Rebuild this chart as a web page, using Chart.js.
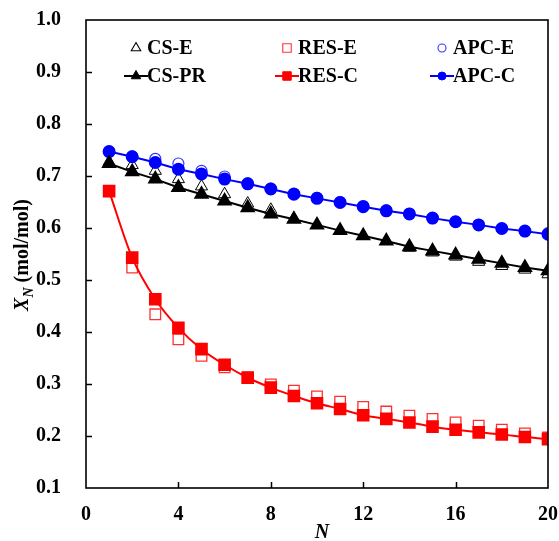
<!DOCTYPE html>
<html>
<head>
<meta charset="utf-8">
<script src="https://cdn.jsdelivr.net/npm/chart.js@4.4.0/dist/chart.umd.min.js"></script>
<style>
  html, body { margin: 0; padding: 0; background: #fff; }
  #wrap { width: 559px; height: 541px; }
</style>
</head>
<body>
<div id="wrap"><canvas id="mainChart" width="559" height="541"></canvas></div>
<script>
// Datos
const stages = [1,2,3,4,5,6,7,8,9,10,11,12,13,14,15,16,17,18,19,20];
const csE    = [0.727,0.721,0.710,0.694,0.680,0.665,0.647,0.635,0.618,0.606,0.595,0.585,0.575,0.562,0.553,0.545,0.535,0.527,0.520,0.511];
const csPR   = [0.724,0.708,0.694,0.678,0.665,0.652,0.639,0.627,0.617,0.606,0.595,0.585,0.575,0.564,0.556,0.548,0.540,0.532,0.524,0.518];
const resE   = [0.671,0.524,0.434,0.386,0.354,0.332,0.313,0.299,0.287,0.276,0.266,0.256,0.247,0.239,0.233,0.226,0.220,0.212,0.205,0.197];
const resC   = [0.671,0.543,0.463,0.408,0.367,0.337,0.312,0.293,0.277,0.263,0.252,0.240,0.233,0.226,0.218,0.212,0.207,0.203,0.198,0.194];
const apcE   = [0.747,0.738,0.733,0.724,0.710,0.699,0.686,0.676,0.666,0.658,0.650,0.642,0.634,0.627,0.619,0.612,0.606,0.599,0.594,0.590];
const apcC   = [0.747,0.737,0.726,0.713,0.704,0.694,0.685,0.675,0.665,0.657,0.649,0.641,0.633,0.627,0.619,0.612,0.606,0.599,0.594,0.588];

const xTicks = [0,4,8,12,16,20];
const yTicks = [0.1,0.2,0.3,0.4,0.5,0.6,0.7,0.8,0.9,1.0];

const SERIF = '"Liberation Serif", "Times New Roman", serif';

function pts(arr){ return stages.map((n,i) => ({ x: n, y: arr[i] })); }

// Marcadores abiertos (E) y rellenos con línea (C / PR)
const datasets = [
  { label: 'CS-E', data: pts(csE), showLine: false, pointStyle: 'triangle', pointRadius: 7,
    borderColor: '#000', backgroundColor: 'rgba(255,255,255,0)', pointBorderWidth: 1, order: 2 },
  { label: 'RES-E', data: pts(resE), showLine: false, pointStyle: 'rect', pointRadius: 7.5,
    borderColor: '#ff3030', backgroundColor: 'rgba(255,255,255,0)', pointBorderWidth: 1.3, order: 2 },
  { label: 'APC-E', data: pts(apcE), showLine: false, pointStyle: 'circle', pointRadius: 5.5,
    borderColor: '#3333ff', backgroundColor: 'rgba(255,255,255,0)', pointBorderWidth: 1.2, order: 2 },
  { label: 'CS-PR', data: pts(csPR), showLine: true, pointStyle: 'triangle', pointRadius: 7,
    borderColor: '#000', backgroundColor: '#000', borderWidth: 2, order: 1 },
  { label: 'RES-C', data: pts(resC), showLine: true, pointStyle: 'rect', pointRadius: 7.5,
    borderColor: '#ff0000', backgroundColor: '#ff0000', borderWidth: 2, cubicInterpolationMode: 'monotone', order: 1 },
  { label: 'APC-C', data: pts(apcC), showLine: true, pointStyle: 'circle', pointRadius: 5.5,
    borderColor: '#0000ff', backgroundColor: '#0000ff', borderWidth: 2, order: 1 }
];

// Marco, marcas interiores, leyenda y títulos de ejes
const decorPlugin = {
  id: 'decor',
  afterDraw(chart){
    const ctx = chart.ctx;
    const a = chart.chartArea;
    const xs = chart.scales.x, ys = chart.scales.y;
    ctx.save();
    ctx.strokeStyle = '#000';
    ctx.lineWidth = 1.6;
    ctx.strokeRect(a.left, a.top, a.right - a.left, a.bottom - a.top);
    ctx.lineWidth = 1.5;
    ctx.beginPath();
    yTicks.slice(1, -1).forEach(v => {
      const y = Math.round(ys.getPixelForValue(v)) + 0.5;
      ctx.moveTo(a.left, y); ctx.lineTo(a.left + 6, y);
    });
    xTicks.slice(1, -1).forEach(v => {
      const x = Math.round(xs.getPixelForValue(v)) + 0.5;
      ctx.moveTo(x, a.bottom); ctx.lineTo(x, a.bottom - 6);
    });
    ctx.stroke();

    // leyenda 2 filas x 3 columnas
    const cols = [a.left + 50, a.left + 201, a.left + 356];
    const rows = [a.top + 28, a.top + 56];
    const ds = chart.data.datasets;
    ds.forEach((d, i) => {
      const col = i % 3, row = Math.floor(i / 3);
      const mx = cols[col], my = rows[row];
      if (d.showLine) {
        ctx.strokeStyle = d.borderColor;
        ctx.lineWidth = 2;
        ctx.beginPath(); ctx.moveTo(mx - 12, my); ctx.lineTo(mx + 12, my); ctx.stroke();
      }
      const r = d.pointStyle === 'circle' ? 4 : (d.pointStyle === 'rect' ? 6 : 5.5);
      ctx.strokeStyle = d.borderColor;
      ctx.fillStyle = d.backgroundColor;
      ctx.lineWidth = d.showLine ? 1 : 1.1;
      Chart.helpers.drawPoint(ctx, { pointStyle: d.pointStyle, radius: r, borderWidth: 1 }, mx, my);
      ctx.fillStyle = '#000';
      ctx.font = 'bold 20px ' + SERIF;
      ctx.textAlign = 'left';
      ctx.textBaseline = 'middle';
      ctx.fillText(d.label, mx + 11, my + 1);
    });

    // título eje X
    ctx.fillStyle = '#000';
    ctx.font = 'italic bold 20px ' + SERIF;
    ctx.textAlign = 'center';
    ctx.textBaseline = 'middle';
    ctx.fillText('N', xs.getPixelForValue(10) + 5, 533);

    // título eje Y (rotado)
    ctx.translate(23, 255);
    ctx.rotate(-Math.PI / 2);
    ctx.textBaseline = 'middle';
    const p1 = 'X', p2 = 'N', p3 = ' (mol/mol)';
    ctx.font = 'italic bold 20px ' + SERIF;
    const w1 = ctx.measureText(p1).width;
    ctx.font = 'italic bold 14px ' + SERIF;
    const w2 = ctx.measureText(p2).width;
    ctx.font = 'bold 20px ' + SERIF;
    const w3 = ctx.measureText(p3).width;
    let x0 = -(w1 + w2 + w3) / 2;
    ctx.textAlign = 'left';
    ctx.font = 'italic bold 20px ' + SERIF;
    ctx.fillText(p1, x0, 0);
    ctx.font = 'italic bold 14px ' + SERIF;
    ctx.fillText(p2, x0 + w1, 6);
    ctx.font = 'bold 20px ' + SERIF;
    ctx.fillText(p3, x0 + w1 + w2, 0);
    ctx.restore();
  }
};

const ctx = document.getElementById('mainChart').getContext('2d');
const chart = new Chart(ctx, {
  type: 'scatter',
  data: { datasets },
  options: {
    responsive: false,
    animation: false,
    layout: { padding: { left: 0, top: 0, right: 0, bottom: 0 } },
    plugins: { legend: { display: false }, tooltip: { enabled: false } },
    scales: {
      x: {
        type: 'linear', min: 0, max: 20,
        afterBuildTicks: s => { s.ticks = xTicks.map(v => ({ value: v })); },
        afterFit: s => { s.height = 53; s.paddingRight = 11; s.paddingLeft = 0; },
        grid: { display: false },
        border: { display: false },
        ticks: { color: '#000', padding: 7, maxRotation: 0,
          font: { family: SERIF, size: 20, weight: 'bold' } }
      },
      y: {
        type: 'linear', min: 0.1, max: 1.0,
        afterBuildTicks: s => { s.ticks = yTicks.map(v => ({ value: v })); },
        afterFit: s => { s.width = 86; s.paddingTop = 20; s.paddingBottom = 0; },
        grid: { display: false },
        border: { display: false },
        ticks: { color: '#000', padding: 17,
          callback: v => Number(v).toFixed(1),
          font: { family: SERIF, size: 20, weight: 'bold' } }
      }
    }
  },
  plugins: [decorPlugin]
});
</script>
</body>
</html>
